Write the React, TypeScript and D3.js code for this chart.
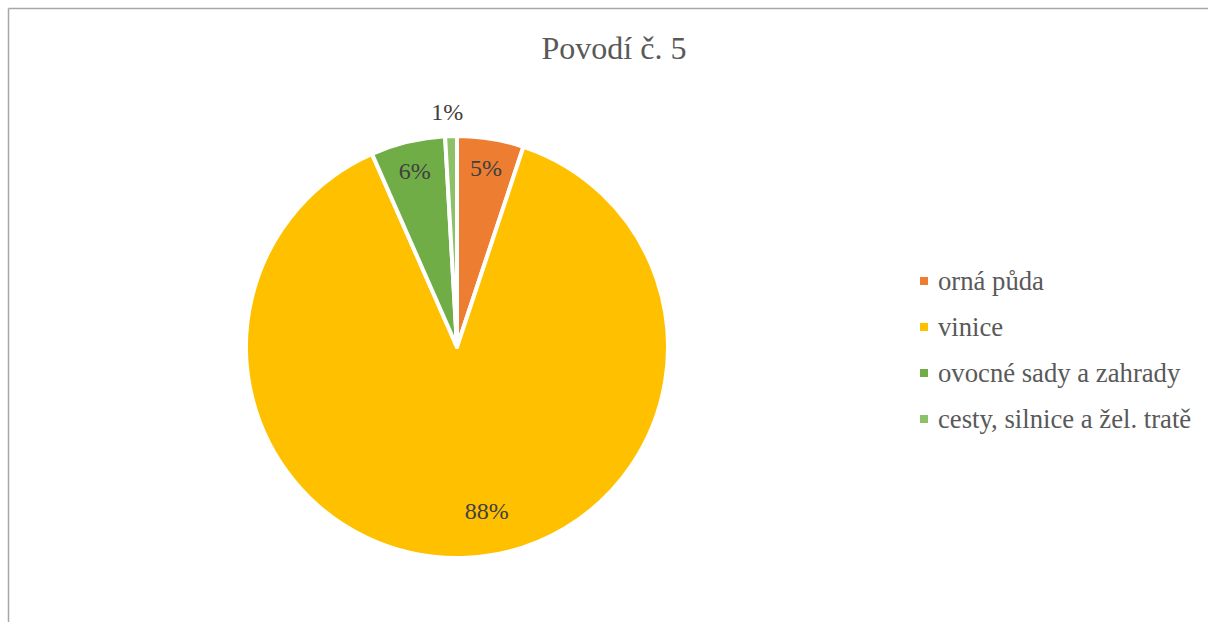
import React from "react";
import * as d3 from "d3";

const categories = ["orná půda", "vinice", "ovocné sady a zahrady", "cesty, silnice a žel. tratě"];
const values = [5.1, 88.3, 5.7, 0.9];
const labels = ["5%", "88%", "6%", "1%"];
const colors = ["#ED7D31", "#FFC000", "#70AD47", "#8CC168"];
const title = "Povodí č. 5";

const W = 1208;
const H = 622;
const cx = 457;
const cy = 347;
const R = 211;

export default function App() {
  const pie = d3.pie<number>().sort(null).value((d) => d)(values);
  const arc = d3.arc<d3.PieArcDatum<number>>().innerRadius(0).outerRadius(R);
  const ringAt = (r: number) => d3.arc<d3.PieArcDatum<number>>().innerRadius(r).outerRadius(r);
  const font = "'Liberation Serif', 'Times New Roman', serif";
  const legendY = d3.scaleLinear().domain([0, 1]).range([281, 327]);

  return (
    <div style={{ position: "absolute", left: 0, top: 0 }}>
      <svg width={W} height={H} style={{ display: "block", fontFamily: font }}>
        <rect width={W} height={H} fill="#fff" />
        <line x1={8.5} y1={8.5} x2={W} y2={8.5} stroke="#a6a6a6" strokeWidth={1.5} />
        <line x1={8.5} y1={8.5} x2={8.5} y2={H} stroke="#a6a6a6" strokeWidth={1.5} />
        <text x={614} y={48} textAnchor="middle" dominantBaseline="central" fontSize={32} fill="#595959">{title}</text>
        <g transform={`translate(${cx},${cy})`}>
          {pie.map((p, i) => (
            <path key={i} d={arc(p) || ""} fill={colors[i]} stroke="#fff" strokeWidth={4} strokeLinejoin="round" />
          ))}
          {pie.map((p, i) => {
            let x = 0, y = 0;
            if (i === 0 || i === 2) [x, y] = ringAt(R * 0.86).centroid(p);
            if (i === 1) { [x, y] = ringAt(R * 0.78).centroid(p); x += 22; }
            if (i === 3) { [x, y] = ringAt(R + 24).centroid(p); x -= 3; }
            return (
              <text key={i} x={x} y={y} textAnchor="middle" dominantBaseline="central" fontSize={24} fill="#404040">
                {labels[i]}
              </text>
            );
          })}
        </g>
        {categories.map((c, i) => (
          <g key={c} transform={`translate(0,${legendY(i)})`}>
            <rect x={920} y={-4} width={8} height={8} fill={colors[i]} />
            <text x={938} y={0} dominantBaseline="central" fontSize={26.7} fill="#595959">{c}</text>
          </g>
        ))}
      </svg>
    </div>
  );
}
